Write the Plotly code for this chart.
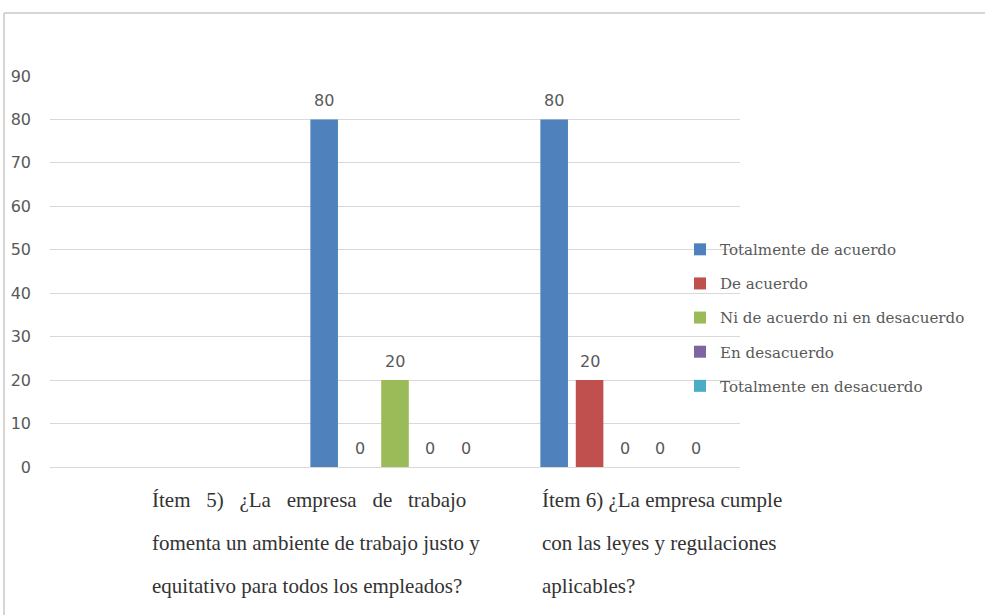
import plotly.graph_objects as go

# ---- data -------------------------------------------------------------
categories = [
    "",
    "Ítem 5) ¿La empresa de trabajo fomenta un ambiente de trabajo justo y equitativo para todos los empleados?",
    "Ítem 6) ¿La empresa cumple con las leyes y regulaciones aplicables?",
]
# category labels as they wrap under the axis
label_lines = [
    [],
    ["Ítem 5) ¿La empresa de trabajo",
     "fomenta un ambiente de trabajo justo y",
     "equitativo para todos los empleados?"],
    ["Ítem 6) ¿La empresa cumple",
     "con las leyes y regulaciones",
     "aplicables?"],
]
label_justified = [False, True, False]

series_names = [
    "Totalmente de acuerdo",
    "De acuerdo",
    "Ni de acuerdo ni en desacuerdo",
    "En desacuerdo",
    "Totalmente en desacuerdo",
]
totalmente_de_acuerdo = [None, 80, 80]
de_acuerdo = [None, 0, 20]
ni_de_acuerdo_ni_en_desacuerdo = [None, 20, 0]
en_desacuerdo = [None, 0, 0]
totalmente_en_desacuerdo = [None, 0, 0]
series_values = [
    totalmente_de_acuerdo,
    de_acuerdo,
    ni_de_acuerdo_ni_en_desacuerdo,
    en_desacuerdo,
    totalmente_en_desacuerdo,
]
y_ticks = list(range(0, 100, 10))

# ---- style ------------------------------------------------------------
colors = ["#4f81bd", "#c0504d", "#9bbb59", "#8064a2", "#4bacc6"]
W, H = 985, 615
ML, MR, MT, MB = 50, 245, 76, 148
SLOT = 0.154      # spacing between bars inside a group (x units)
BAR_W = 0.12      # bar width (x units)
GRAY = "#595959"
GRID = "#d9d9d9"

cat_idx = list(range(len(categories)))
n_series = len(series_names)

fig = go.Figure()
annotations = []
for i, (name, vals, col) in enumerate(zip(series_names, series_values, colors)):
    center_off = (i - (n_series - 1) / 2) * SLOT
    fig.add_trace(go.Bar(
        x=cat_idx, y=vals, name=name,
        offset=center_off - BAR_W / 2, width=BAR_W,
        marker=dict(color=col, line=dict(width=0)),
        legendgroup=name,
        hoverinfo="name+y",
    ))
    for k, v in zip(cat_idx, vals):
        if v is None:
            continue
        annotations.append(dict(
            x=k + center_off, y=v, xref="x", yref="y",
            text=str(v), showarrow=False, yanchor="middle", yshift=19,
            font=dict(family="DejaVu Sans", size=16, color=GRAY),
        ))

# wrapped category labels below the axis
label_xshift = [0, -245, -85]
for k, lines in enumerate(label_lines):
    for j, line in enumerate(lines):
        txt = line
        if label_justified[k] and j == 0:
            txt = "\u00a0\u00a0\u00a0".join(line.split(" "))
        annotations.append(dict(
            x=k, y=0, xref="x", yref="y", xanchor="left", yanchor="middle",
            xshift=label_xshift[k], yshift=-(33 + 43 * j),
            text=txt, showarrow=False,
            font=dict(family="Liberation Serif", size=21, color="#333333"),
        ))

# outer chart frame (top and left edges)
pw, ph = W - ML - MR, H - MT - MB
def px_to_paper_x(px):
    return (px - ML) / pw
def px_to_paper_y(py):
    return (H - MB - py) / ph

shapes = [
    dict(type="line", xref="paper", yref="paper",
         x0=px_to_paper_x(4), x1=px_to_paper_x(W + 5),
         y0=px_to_paper_y(13), y1=px_to_paper_y(13),
         line=dict(color="#c8c8c8", width=1.5)),
    dict(type="line", xref="paper", yref="paper",
         x0=px_to_paper_x(4), x1=px_to_paper_x(4),
         y0=px_to_paper_y(13), y1=px_to_paper_y(H + 5),
         line=dict(color="#c8c8c8", width=1.5)),
]

fig.update_layout(
    width=W, height=H, autosize=False,
    margin=dict(l=ML, r=MR, t=MT, b=MB),
    paper_bgcolor="white", plot_bgcolor="white",
    barmode="overlay",
    showlegend=True,
    legend=dict(
        x=px_to_paper_x(680), xanchor="left",
        y=px_to_paper_y(233), yanchor="top",
        traceorder="grouped", tracegroupgap=11.5,
        itemwidth=30,
        font=dict(family="DejaVu Serif", size=15.1, color=GRAY),
        bgcolor="rgba(0,0,0,0)",
    ),
    xaxis=dict(
        range=[-0.5, len(categories) - 0.5],
        tickvals=cat_idx, ticktext=["" for _ in categories],
        showticklabels=False, showgrid=False, zeroline=False,
        showline=False, ticks="",
    ),
    yaxis=dict(
        range=[0, 90], tickvals=y_ticks,
        showgrid=True, gridcolor=GRID, gridwidth=1.3,
        zeroline=True, zerolinecolor=GRID, zerolinewidth=1.3,
        showline=False, ticks="", ticklabelstandoff=18,
        tickfont=dict(family="DejaVu Sans", size=16, color=GRAY),
    ),
    annotations=annotations,
    shapes=shapes,
)

fig.write_html("out.html")
